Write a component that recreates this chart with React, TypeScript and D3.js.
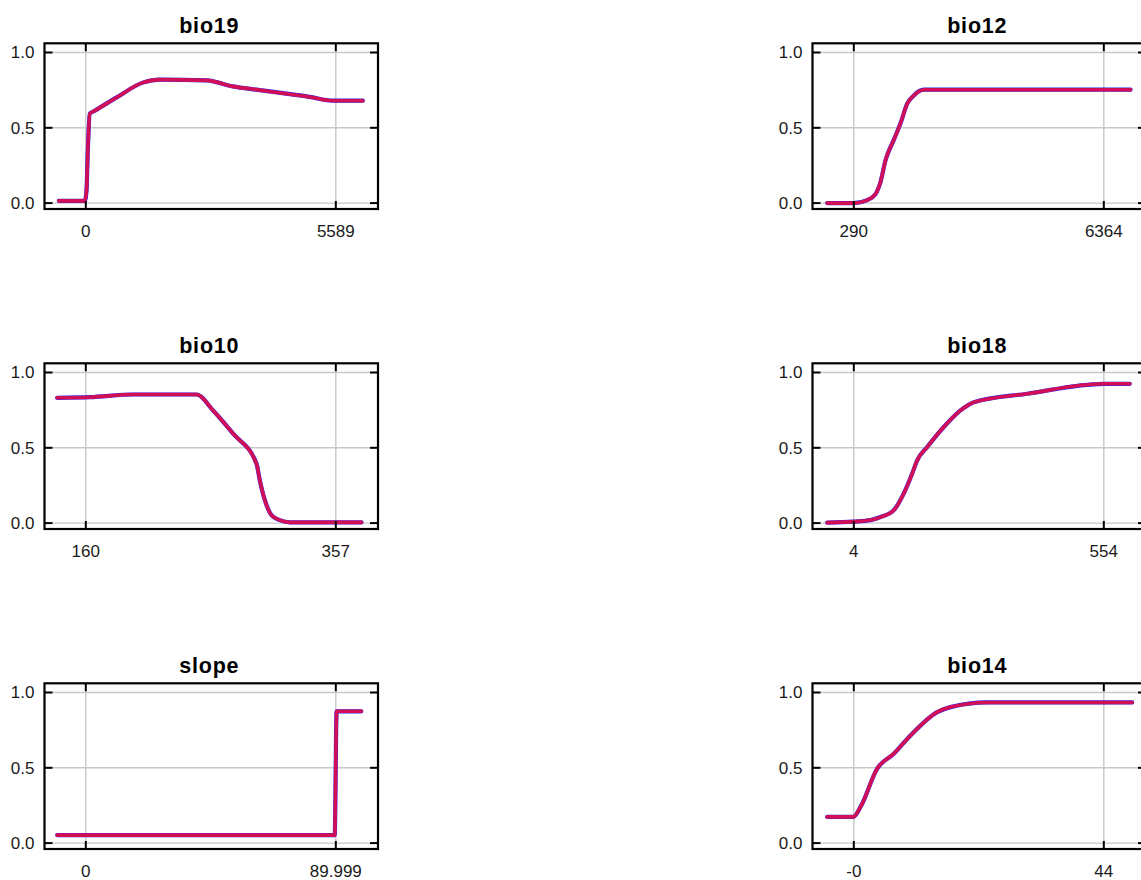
import React from 'react';
import * as d3 from 'd3';

// ---- data ----
const panelNames = ['bio19', 'bio12', 'bio10', 'bio18', 'slope', 'bio14'];
const xTickValues: number[][] = [
  [0, 5589],
  [290, 6364],
  [160, 357],
  [4, 554],
  [0, 89.999],
  [0, 44],
];
const xTickLabels: string[][] = [
  ['0', '5589'],
  ['290', '6364'],
  ['160', '357'],
  ['4', '554'],
  ['0', '89.999'],
  ['-0', '44'],
];
const yTickValues = [0, 0.5, 1];
const yTickLabels = ['0.0', '0.5', '1.0'];

const bio19X = [-604, -22, 15, 45, 89, 180, 680, 1274, 1654, 2705, 3286, 3850, 4404, 5000, 5522, 6193];
const bio19Y = [0.015, 0.015, 0.08, 0.35, 0.594, 0.61, 0.70, 0.80, 0.82, 0.815, 0.775, 0.752, 0.73, 0.705, 0.68, 0.68];

const bio12X = [-356, 290, 616, 817, 939, 1060, 1262, 1425, 1588, 1748, 1991, 7014];
const bio12Y = [0.0, 0.0, 0.02, 0.06, 0.14, 0.285, 0.42, 0.53, 0.66, 0.715, 0.753, 0.753];

const bio10X = [137.4, 163.2, 197.3, 247.2, 260.3, 276.1, 294.5, 297.1, 301.1, 306.3, 312.9, 320.8, 377.3];
const bio10Y = [0.832, 0.836, 0.854, 0.854, 0.748, 0.594, 0.395, 0.285, 0.152, 0.053, 0.02, 0.005, 0.005];

const bio18X = [-54.5, 4, 40.7, 62.7, 92, 114, 132.5, 143.5, 165.5, 202, 238.7, 268, 385.5, 554, 611.2];
const bio18Y = [0.003, 0.01, 0.02, 0.04, 0.086, 0.197, 0.329, 0.417, 0.505, 0.638, 0.748, 0.803, 0.859, 0.925, 0.925];

const slopeX = [-10.3, 89.6, 90.3, 99.2];
const slopeY = [0.053, 0.053, 0.875, 0.875];

const bio14X = [-4.68, -0.1, 1.18, 4.12, 7.04, 9.98, 14.68, 17.02, 23.48, 49.0];
const bio14Y = [0.174, 0.174, 0.24, 0.495, 0.594, 0.715, 0.87, 0.903, 0.934, 0.934];

const seriesX = [bio19X, bio12X, bio10X, bio18X, slopeX, bio14X];
const seriesY = [bio19Y, bio12Y, bio10Y, bio18Y, slopeY, bio14Y];

// ---- layout ----
const W = 1141;
const H = 880;
const colLeft = [44.5, 812.5];
const rowTop = [43.3, 363.3, 683.3];
const boxW = 333.5;
const boxH = 165.7;
const tickLen = 8;
const FONT = 'Liberation Sans, Arial, sans-serif';

function Panel({ idx }: { idx: number }) {
  const col = idx % 2;
  const row = Math.floor(idx / 2);
  const left = colLeft[col];
  const top = rowTop[row];
  const [a, b] = xTickValues[idx];
  const x = d3.scaleLinear().domain([a, b]).range([41.3, 291.3]);
  const y = d3.scaleLinear().domain([0, 1]).range([159.8, 9.2]);
  const pts: [number, number][] = seriesX[idx].map((v, i) => [v, seriesY[idx][i]]);
  const line = d3
    .line<[number, number]>()
    .x((d) => x(d[0]))
    .y((d) => y(d[1]))
    .curve(d3.curveMonotoneX);
  const path = line(pts) || '';
  return (
    <g transform={`translate(${left},${top})`}>
      <text
        x={boxW / 2 - 2}
        y={-10}
        textAnchor="middle"
        fontFamily={FONT}
        fontWeight="bold"
        fontSize={21.5}
        letterSpacing={0.8}
        fill="#000"
      >
        {panelNames[idx]}
      </text>
      {/* grid */}
      {xTickValues[idx].map((v, i) => (
        <line key={'gx' + i} x1={x(v)} x2={x(v)} y1={0} y2={boxH} stroke="#c8c8c8" strokeWidth={1.4} />
      ))}
      {yTickValues.map((v, i) => (
        <line key={'gy' + i} x1={0} x2={boxW} y1={y(v)} y2={y(v)} stroke="#c8c8c8" strokeWidth={1.4} />
      ))}
      {/* curves */}
      <path d={path} fill="none" stroke="#2222ff" strokeWidth={4.2} strokeLinejoin="round" strokeLinecap="round" />
      <path d={path} fill="none" stroke="#ff0a2a" strokeOpacity={0.8} strokeWidth={3.6} strokeLinejoin="round" strokeLinecap="round" />
      {/* ticks inward */}
      {xTickValues[idx].map((v, i) => (
        <g key={'tx' + i}>
          <line x1={x(v)} x2={x(v)} y1={boxH} y2={boxH - tickLen} stroke="#000" strokeWidth={2} />
          <line x1={x(v)} x2={x(v)} y1={0} y2={tickLen} stroke="#000" strokeWidth={2} />
          <text
            x={x(v)}
            y={boxH + 28}
            textAnchor="middle"
            fontFamily={FONT}
            fontSize={17}
            fill="#1a1a1a"
          >
            {xTickLabels[idx][i]}
          </text>
        </g>
      ))}
      {yTickValues.map((v, i) => (
        <g key={'ty' + i}>
          <line x1={0} x2={tickLen} y1={y(v)} y2={y(v)} stroke="#000" strokeWidth={2} />
          <line x1={boxW} x2={boxW - tickLen} y1={y(v)} y2={y(v)} stroke="#000" strokeWidth={2} />
          <text
            x={-10}
            y={y(v) + 6}
            textAnchor="end"
            fontFamily={FONT}
            fontSize={17}
            fill="#1a1a1a"
          >
            {yTickLabels[i]}
          </text>
        </g>
      ))}
      {/* box */}
      <rect x={0} y={0} width={boxW} height={boxH} fill="none" stroke="#000" strokeWidth={2.2} />
    </g>
  );
}

export default function App() {
  return (
    <div style={{ position: 'absolute', left: 0, top: 0, width: W, height: H, overflow: 'hidden', background: '#fff' }}>
      <svg width={W} height={H} style={{ display: 'block' }}>
        <rect x={0} y={0} width={W} height={H} fill="#fff" />
        {panelNames.map((_, i) => (
          <Panel key={i} idx={i} />
        ))}
      </svg>
    </div>
  );
}
